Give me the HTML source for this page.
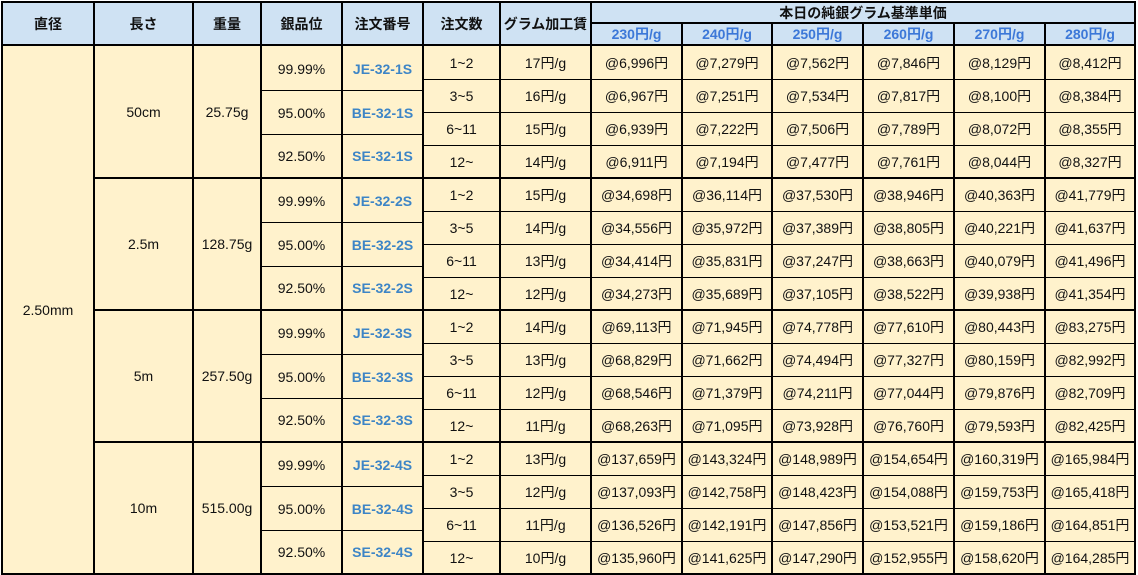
<!DOCTYPE html>
<html><head><meta charset="utf-8">
<style>
html,body{margin:0;padding:0;background:#fff;}
body{width:1138px;height:575px;position:relative;overflow:hidden;font-family:"Liberation Sans","Noto Sans CJK JP",sans-serif;font-size:14px;color:#111;}
.a{position:absolute;}
.c{position:absolute;display:flex;align-items:center;justify-content:center;line-height:16px;white-space:nowrap;}
.l{position:absolute;background:#000;}
.h{font-weight:bold;color:#111;}
.hb{font-weight:bold;color:#3c78d8;}
.b{font-weight:bold;color:#3d85c6;}
.x0{left:3px;width:90px}
.x1{left:95px;width:97px}
.x2{left:194px;width:66px}
.x3{left:262px;width:79px}
.x4{left:343px;width:79px}
.x5{left:424px;width:75px}
.x6{left:501px;width:89px}
.x7{left:592px;width:89px}
.x8{left:683px;width:88px}
.x9{left:773px;width:89px}
.x10{left:864px;width:89px}
.x11{left:955px;width:89px}
.x12{left:1046px;width:88px}
</style></head><body>
<div class="a" style="left:1px;top:1px;width:1135px;height:45px;background:#cfe2f3"></div>
<div class="a" style="left:1px;top:45px;width:1135px;height:530px;background:#fff2cc"></div>

<!-- header -->
<div class="c h x0" style="top:3px;height:41px">直径</div>
<div class="c h x1" style="top:3px;height:41px">長さ</div>
<div class="c h x2" style="top:3px;height:41px">重量</div>
<div class="c h x3" style="top:3px;height:41px">銀品位</div>
<div class="c h x4" style="top:3px;height:41px">注文番号</div>
<div class="c h x5" style="top:3px;height:41px">注文数</div>
<div class="c h x6" style="top:3px;height:41px">グラム加工賃</div>
<div class="c h" style="left:592px;width:542px;top:3px;height:19px">本日の純銀グラム基準単価</div>
<div class="c hb x7" style="top:24px;height:20px">230円/g</div>
<div class="c hb x8" style="top:24px;height:20px">240円/g</div>
<div class="c hb x9" style="top:24px;height:20px">250円/g</div>
<div class="c hb x10" style="top:24px;height:20px">260円/g</div>
<div class="c hb x11" style="top:24px;height:20px">270円/g</div>
<div class="c hb x12" style="top:24px;height:20px">280円/g</div>

<!-- 直径 -->
<div class="c x0" style="top:47px;height:526px">2.50mm</div>

<!-- group 1 (g=45) -->
<div class="c x1" style="top:47px;height:130px">50cm</div>
<div class="c x2" style="top:47px;height:130px">25.75g</div>
<div class="c x3" style="top:47px;height:43px">99.99%</div>
<div class="c b x4" style="top:47px;height:43px">JE-32-1S</div>
<div class="c x3" style="top:91px;height:43px">95.00%</div>
<div class="c b x4" style="top:91px;height:43px">BE-32-1S</div>
<div class="c x3" style="top:135px;height:42px">92.50%</div>
<div class="c b x4" style="top:135px;height:42px">SE-32-1S</div>

<div class="c x5" style="top:47px;height:32px">1~2</div><div class="c x6" style="top:47px;height:32px">17円/g</div>
<div class="c x7" style="top:47px;height:32px">@6,996円</div><div class="c x8" style="top:47px;height:32px">@7,279円</div><div class="c x9" style="top:47px;height:32px">@7,562円</div><div class="c x10" style="top:47px;height:32px">@7,846円</div><div class="c x11" style="top:47px;height:32px">@8,129円</div><div class="c x12" style="top:47px;height:32px">@8,412円</div>
<div class="c x5" style="top:80px;height:32px">3~5</div><div class="c x6" style="top:80px;height:32px">16円/g</div>
<div class="c x7" style="top:80px;height:32px">@6,967円</div><div class="c x8" style="top:80px;height:32px">@7,251円</div><div class="c x9" style="top:80px;height:32px">@7,534円</div><div class="c x10" style="top:80px;height:32px">@7,817円</div><div class="c x11" style="top:80px;height:32px">@8,100円</div><div class="c x12" style="top:80px;height:32px">@8,384円</div>
<div class="c x5" style="top:113px;height:32px">6~11</div><div class="c x6" style="top:113px;height:32px">15円/g</div>
<div class="c x7" style="top:113px;height:32px">@6,939円</div><div class="c x8" style="top:113px;height:32px">@7,222円</div><div class="c x9" style="top:113px;height:32px">@7,506円</div><div class="c x10" style="top:113px;height:32px">@7,789円</div><div class="c x11" style="top:113px;height:32px">@8,072円</div><div class="c x12" style="top:113px;height:32px">@8,355円</div>
<div class="c x5" style="top:146px;height:31px">12~</div><div class="c x6" style="top:146px;height:31px">14円/g</div>
<div class="c x7" style="top:146px;height:31px">@6,911円</div><div class="c x8" style="top:146px;height:31px">@7,194円</div><div class="c x9" style="top:146px;height:31px">@7,477円</div><div class="c x10" style="top:146px;height:31px">@7,761円</div><div class="c x11" style="top:146px;height:31px">@8,044円</div><div class="c x12" style="top:146px;height:31px">@8,327円</div>

<!-- group 2 (g=177) -->
<div class="c x1" style="top:179px;height:130px">2.5m</div>
<div class="c x2" style="top:179px;height:130px">128.75g</div>
<div class="c x3" style="top:179px;height:43px">99.99%</div>
<div class="c b x4" style="top:179px;height:43px">JE-32-2S</div>
<div class="c x3" style="top:223px;height:43px">95.00%</div>
<div class="c b x4" style="top:223px;height:43px">BE-32-2S</div>
<div class="c x3" style="top:267px;height:42px">92.50%</div>
<div class="c b x4" style="top:267px;height:42px">SE-32-2S</div>

<div class="c x5" style="top:179px;height:32px">1~2</div><div class="c x6" style="top:179px;height:32px">15円/g</div>
<div class="c x7" style="top:179px;height:32px">@34,698円</div><div class="c x8" style="top:179px;height:32px">@36,114円</div><div class="c x9" style="top:179px;height:32px">@37,530円</div><div class="c x10" style="top:179px;height:32px">@38,946円</div><div class="c x11" style="top:179px;height:32px">@40,363円</div><div class="c x12" style="top:179px;height:32px">@41,779円</div>
<div class="c x5" style="top:212px;height:32px">3~5</div><div class="c x6" style="top:212px;height:32px">14円/g</div>
<div class="c x7" style="top:212px;height:32px">@34,556円</div><div class="c x8" style="top:212px;height:32px">@35,972円</div><div class="c x9" style="top:212px;height:32px">@37,389円</div><div class="c x10" style="top:212px;height:32px">@38,805円</div><div class="c x11" style="top:212px;height:32px">@40,221円</div><div class="c x12" style="top:212px;height:32px">@41,637円</div>
<div class="c x5" style="top:245px;height:32px">6~11</div><div class="c x6" style="top:245px;height:32px">13円/g</div>
<div class="c x7" style="top:245px;height:32px">@34,414円</div><div class="c x8" style="top:245px;height:32px">@35,831円</div><div class="c x9" style="top:245px;height:32px">@37,247円</div><div class="c x10" style="top:245px;height:32px">@38,663円</div><div class="c x11" style="top:245px;height:32px">@40,079円</div><div class="c x12" style="top:245px;height:32px">@41,496円</div>
<div class="c x5" style="top:278px;height:31px">12~</div><div class="c x6" style="top:278px;height:31px">12円/g</div>
<div class="c x7" style="top:278px;height:31px">@34,273円</div><div class="c x8" style="top:278px;height:31px">@35,689円</div><div class="c x9" style="top:278px;height:31px">@37,105円</div><div class="c x10" style="top:278px;height:31px">@38,522円</div><div class="c x11" style="top:278px;height:31px">@39,938円</div><div class="c x12" style="top:278px;height:31px">@41,354円</div>

<!-- group 3 (g=309) -->
<div class="c x1" style="top:311px;height:130px">5m</div>
<div class="c x2" style="top:311px;height:130px">257.50g</div>
<div class="c x3" style="top:311px;height:43px">99.99%</div>
<div class="c b x4" style="top:311px;height:43px">JE-32-3S</div>
<div class="c x3" style="top:355px;height:43px">95.00%</div>
<div class="c b x4" style="top:355px;height:43px">BE-32-3S</div>
<div class="c x3" style="top:399px;height:42px">92.50%</div>
<div class="c b x4" style="top:399px;height:42px">SE-32-3S</div>

<div class="c x5" style="top:311px;height:32px">1~2</div><div class="c x6" style="top:311px;height:32px">14円/g</div>
<div class="c x7" style="top:311px;height:32px">@69,113円</div><div class="c x8" style="top:311px;height:32px">@71,945円</div><div class="c x9" style="top:311px;height:32px">@74,778円</div><div class="c x10" style="top:311px;height:32px">@77,610円</div><div class="c x11" style="top:311px;height:32px">@80,443円</div><div class="c x12" style="top:311px;height:32px">@83,275円</div>
<div class="c x5" style="top:344px;height:32px">3~5</div><div class="c x6" style="top:344px;height:32px">13円/g</div>
<div class="c x7" style="top:344px;height:32px">@68,829円</div><div class="c x8" style="top:344px;height:32px">@71,662円</div><div class="c x9" style="top:344px;height:32px">@74,494円</div><div class="c x10" style="top:344px;height:32px">@77,327円</div><div class="c x11" style="top:344px;height:32px">@80,159円</div><div class="c x12" style="top:344px;height:32px">@82,992円</div>
<div class="c x5" style="top:377px;height:32px">6~11</div><div class="c x6" style="top:377px;height:32px">12円/g</div>
<div class="c x7" style="top:377px;height:32px">@68,546円</div><div class="c x8" style="top:377px;height:32px">@71,379円</div><div class="c x9" style="top:377px;height:32px">@74,211円</div><div class="c x10" style="top:377px;height:32px">@77,044円</div><div class="c x11" style="top:377px;height:32px">@79,876円</div><div class="c x12" style="top:377px;height:32px">@82,709円</div>
<div class="c x5" style="top:410px;height:31px">12~</div><div class="c x6" style="top:410px;height:31px">11円/g</div>
<div class="c x7" style="top:410px;height:31px">@68,263円</div><div class="c x8" style="top:410px;height:31px">@71,095円</div><div class="c x9" style="top:410px;height:31px">@73,928円</div><div class="c x10" style="top:410px;height:31px">@76,760円</div><div class="c x11" style="top:410px;height:31px">@79,593円</div><div class="c x12" style="top:410px;height:31px">@82,425円</div>

<!-- group 4 (g=441) -->
<div class="c x1" style="top:443px;height:130px">10m</div>
<div class="c x2" style="top:443px;height:130px">515.00g</div>
<div class="c x3" style="top:443px;height:43px">99.99%</div>
<div class="c b x4" style="top:443px;height:43px">JE-32-4S</div>
<div class="c x3" style="top:487px;height:43px">95.00%</div>
<div class="c b x4" style="top:487px;height:43px">BE-32-4S</div>
<div class="c x3" style="top:531px;height:42px">92.50%</div>
<div class="c b x4" style="top:531px;height:42px">SE-32-4S</div>

<div class="c x5" style="top:443px;height:32px">1~2</div><div class="c x6" style="top:443px;height:32px">13円/g</div>
<div class="c x7" style="top:443px;height:32px">@137,659円</div><div class="c x8" style="top:443px;height:32px">@143,324円</div><div class="c x9" style="top:443px;height:32px">@148,989円</div><div class="c x10" style="top:443px;height:32px">@154,654円</div><div class="c x11" style="top:443px;height:32px">@160,319円</div><div class="c x12" style="top:443px;height:32px">@165,984円</div>
<div class="c x5" style="top:476px;height:32px">3~5</div><div class="c x6" style="top:476px;height:32px">12円/g</div>
<div class="c x7" style="top:476px;height:32px">@137,093円</div><div class="c x8" style="top:476px;height:32px">@142,758円</div><div class="c x9" style="top:476px;height:32px">@148,423円</div><div class="c x10" style="top:476px;height:32px">@154,088円</div><div class="c x11" style="top:476px;height:32px">@159,753円</div><div class="c x12" style="top:476px;height:32px">@165,418円</div>
<div class="c x5" style="top:509px;height:32px">6~11</div><div class="c x6" style="top:509px;height:32px">11円/g</div>
<div class="c x7" style="top:509px;height:32px">@136,526円</div><div class="c x8" style="top:509px;height:32px">@142,191円</div><div class="c x9" style="top:509px;height:32px">@147,856円</div><div class="c x10" style="top:509px;height:32px">@153,521円</div><div class="c x11" style="top:509px;height:32px">@159,186円</div><div class="c x12" style="top:509px;height:32px">@164,851円</div>
<div class="c x5" style="top:542px;height:31px">12~</div><div class="c x6" style="top:542px;height:31px">10円/g</div>
<div class="c x7" style="top:542px;height:31px">@135,960円</div><div class="c x8" style="top:542px;height:31px">@141,625円</div><div class="c x9" style="top:542px;height:31px">@147,290円</div><div class="c x10" style="top:542px;height:31px">@152,955円</div><div class="c x11" style="top:542px;height:31px">@158,620円</div><div class="c x12" style="top:542px;height:31px">@164,285円</div>

<!-- lines: borders -->
<div class="l" style="left:1px;top:1px;width:1135px;height:2px"></div>
<div class="l" style="left:1px;top:573px;width:1135px;height:2px"></div>
<div class="l" style="left:1px;top:1px;width:2px;height:574px"></div>
<div class="l" style="left:1134px;top:1px;width:2px;height:574px"></div>
<div class="l" style="left:1px;top:44px;width:1135px;height:2px"></div>
<div class="l" style="left:590px;top:22px;width:546px;height:2px"></div>
<!-- verticals -->
<div class="l" style="left:93px;top:1px;width:2px;height:574px"></div>
<div class="l" style="left:192px;top:1px;width:2px;height:574px"></div>
<div class="l" style="left:260px;top:1px;width:2px;height:574px"></div>
<div class="l" style="left:341px;top:1px;width:2px;height:574px"></div>
<div class="l" style="left:422px;top:1px;width:2px;height:574px"></div>
<div class="l" style="left:499px;top:1px;width:2px;height:574px"></div>
<div class="l" style="left:590px;top:1px;width:2px;height:574px"></div>
<div class="l" style="left:681px;top:22px;width:2px;height:553px"></div>
<div class="l" style="left:771px;top:22px;width:2px;height:553px"></div>
<div class="l" style="left:862px;top:22px;width:2px;height:553px"></div>
<div class="l" style="left:953px;top:22px;width:2px;height:553px"></div>
<div class="l" style="left:1044px;top:22px;width:2px;height:553px"></div>
<!-- group lines -->
<div class="l" style="left:93px;top:177px;width:1043px;height:2px"></div>
<div class="l" style="left:93px;top:309px;width:1043px;height:2px"></div>
<div class="l" style="left:93px;top:441px;width:1043px;height:2px"></div>
<!-- purity lines -->
<div class="l" style="left:260px;top:90px;width:164px;height:1px"></div>
<div class="l" style="left:260px;top:134px;width:164px;height:1px"></div>
<div class="l" style="left:260px;top:222px;width:164px;height:1px"></div>
<div class="l" style="left:260px;top:266px;width:164px;height:1px"></div>
<div class="l" style="left:260px;top:354px;width:164px;height:1px"></div>
<div class="l" style="left:260px;top:398px;width:164px;height:1px"></div>
<div class="l" style="left:260px;top:486px;width:164px;height:1px"></div>
<div class="l" style="left:260px;top:530px;width:164px;height:1px"></div>
<!-- order lines -->
<div class="l" style="left:422px;top:79px;width:714px;height:1px"></div>
<div class="l" style="left:422px;top:112px;width:714px;height:1px"></div>
<div class="l" style="left:422px;top:145px;width:714px;height:1px"></div>
<div class="l" style="left:422px;top:211px;width:714px;height:1px"></div>
<div class="l" style="left:422px;top:244px;width:714px;height:1px"></div>
<div class="l" style="left:422px;top:277px;width:714px;height:1px"></div>
<div class="l" style="left:422px;top:343px;width:714px;height:1px"></div>
<div class="l" style="left:422px;top:376px;width:714px;height:1px"></div>
<div class="l" style="left:422px;top:409px;width:714px;height:1px"></div>
<div class="l" style="left:422px;top:475px;width:714px;height:1px"></div>
<div class="l" style="left:422px;top:508px;width:714px;height:1px"></div>
<div class="l" style="left:422px;top:541px;width:714px;height:1px"></div>
</body></html>
